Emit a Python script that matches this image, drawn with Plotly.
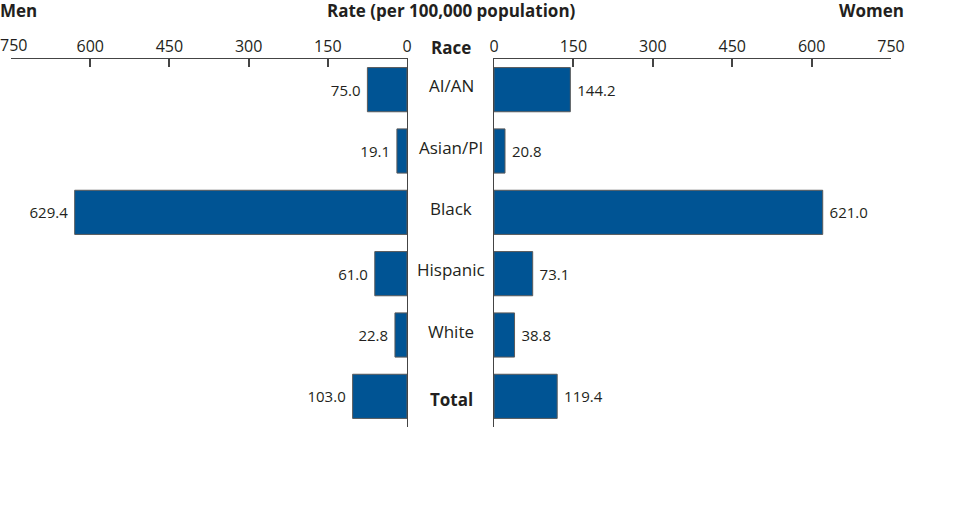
import plotly.graph_objects as go

races = ["AI/AN", "Asian/PI", "Black", "Hispanic", "White", "Total"]
race_labels = ["AI/AN", "Asian/PI", "Black", "Hispanic", "White", "<b>Total</b>"]
men = [75.0, 19.1, 629.4, 61.0, 22.8, 103.0]
women = [144.2, 20.8, 621.0, 73.1, 38.8, 119.4]
tick_vals = [0, 150, 300, 450, 600, 750]
tick_text = ["0", "150", "300", "450", "600", "750"]

BAR = "#005494"
EDGE = "#5a5a5a"
TXT = "#231f20"
FONT = "Open Sans"

L, R, T, B = 11, 69, 59, 89
W, H = 960, 516


def px_x(px):
    return (px - L) / (W - L - R)


def px_y(py):
    return (H - B - py) / (H - T - B)


fig = go.Figure()
fig.add_trace(go.Bar(
    x=men, y=races, orientation="h", xaxis="x", yaxis="y",
    marker=dict(color=BAR, line=dict(color=EDGE, width=1)),
    width=0.72, text=[f"{v:.1f} " for v in men], textposition="outside",
    textfont=dict(size=15, color=TXT, family=FONT), cliponaxis=False,
    showlegend=False, hoverinfo="skip",
))
fig.add_trace(go.Bar(
    x=women, y=races, orientation="h", xaxis="x2", yaxis="y2",
    marker=dict(color=BAR, line=dict(color=EDGE, width=1)),
    width=0.72, text=[f" {v:.1f}" for v in women], textposition="outside",
    textfont=dict(size=15, color=TXT, family=FONT), cliponaxis=False,
    showlegend=False, hoverinfo="skip",
))

axis_common = dict(
    side="top", tickvals=tick_vals, automargin=False,
    ticklabeloverflow="allow",
    showline=True, linecolor="#444", linewidth=1,
    ticks="inside", ticklen=8, tickcolor="#444", tickwidth=1.5,
    showgrid=False, zeroline=False,
    tickfont=dict(size=16, color=TXT, family=FONT),
)
# the left-edge "750" label is placed as an annotation so it stays inside the page
left_text = tick_text[:-1] + [""]
yaxis_common = dict(
    domain=[0, 1], categoryorder="array", categoryarray=races,
    autorange="reversed", showline=True, linecolor="#444", linewidth=1,
    showticklabels=False, showgrid=False, zeroline=False, automargin=False,
)
fig.update_layout(
    width=W, height=H,
    margin=dict(l=L, r=R, t=T, b=B, autoexpand=False),
    plot_bgcolor="white", paper_bgcolor="white",
    font=dict(family=FONT, color=TXT),
    xaxis=dict(axis_common, domain=[0, px_x(407)], range=[750, 0], anchor="y",
               ticktext=left_text),
    xaxis2=dict(axis_common, domain=[px_x(494), 1.0], range=[0, 750], anchor="y2",
                ticktext=tick_text),
    yaxis=dict(yaxis_common, anchor="x", side="right"),
    yaxis2=dict(yaxis_common, anchor="x2", side="left"),
)

fig.add_annotation(x=px_x(0), y=px_y(45), xref="paper", yref="paper",
                   text=tick_text[-1], showarrow=False, xanchor="left",
                   yanchor="middle", xshift=-2,
                   font=dict(size=16, color=TXT, family=FONT))
for r, lab in zip(races, race_labels):
    fig.add_annotation(x=px_x(451), xref="paper", xanchor="center", y=r, yref="y",
                       text=lab, showarrow=False,
                       font=dict(size=17, color=TXT, family=FONT),
                       yshift=-3 if r == "Total" else 4)
fig.add_annotation(x=px_x(451), y=px_y(48), xref="paper", yref="paper",
                   text="<b>Race</b>", showarrow=False, xanchor="center",
                   yanchor="middle", font=dict(size=17, color=TXT, family=FONT))
fig.add_annotation(x=px_x(451), y=px_y(10), xref="paper", yref="paper",
                   text="<b>Rate (per 100,000 population)</b>", showarrow=False,
                   xanchor="center", yanchor="middle",
                   font=dict(size=17, color=TXT, family=FONT))
fig.add_annotation(x=px_x(0), y=px_y(10), xref="paper", yref="paper",
                   text="<b>Men</b>", showarrow=False, xanchor="left", yanchor="middle",
                   xshift=-2, font=dict(size=17, color=TXT, family=FONT))
fig.add_annotation(x=px_x(906), y=px_y(10), xref="paper", yref="paper",
                   text="<b>Women</b>", showarrow=False, xanchor="right", yanchor="middle",
                   font=dict(size=17, color=TXT, family=FONT))

fig.write_html("out.html", config={"displayModeBar": False},
               post_script="document.body.style.margin='0';")
